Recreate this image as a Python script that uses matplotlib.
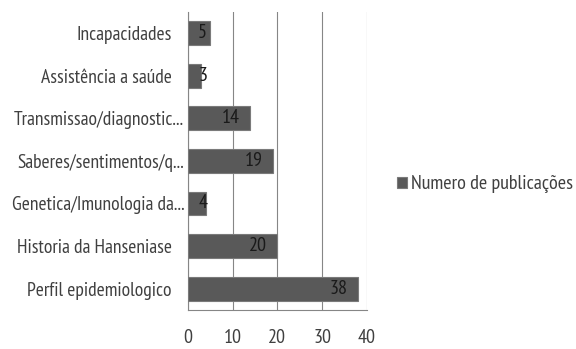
import matplotlib
matplotlib.use("Agg")
import matplotlib.pyplot as plt
from matplotlib.transforms import ScaledTranslation

categories = [
    "Perfil epidemiologico",
    "Historia da Hanseniase",
    "Genetica/Imunologia da...",
    "Saberes/sentimentos/q...",
    "Transmissao/diagnostic...",
    "Assistência a saúde",
    "Incapacidades",
]
values = [38, 20, 4, 19, 14, 3, 5]
series_name = "Numero de publicações"
xticks = [0, 10, 20, 30, 40]

plt.rcParams["font.family"] = ["PT Sans Narrow", "DejaVu Sans"]

text_color = "#404040"
bar_color = "#595959"
grid_color = "#868686"
fs = 14.5

fig = plt.figure(figsize=(5.76, 3.49), dpi=100)
ax = fig.add_axes([0.326, 0.112, 0.311, 0.854])

y = range(len(categories))
bars = ax.barh(y, values, height=0.56, color=bar_color, edgecolor="#7a7a7a",
               linewidth=0.8, label=series_name, zorder=3)

# Value labels sit inside the bar end; short bars get them from the bar start.
for yi, v in zip(y, values):
    if v <= 5:
        ax.annotate(str(v), (0, yi), xytext=(7.5, 0), textcoords="offset points",
                    ha="left", va="center", fontsize=fs, color="#1a1a1a", zorder=4)
    else:
        ax.annotate(str(v), (v, yi), xytext=(-7.5, 0), textcoords="offset points",
                    ha="right", va="center", fontsize=fs, color="#1a1a1a", zorder=4)

ax.set_xlim(0, 40)
ax.set_ylim(-0.5, len(categories) - 0.5)
ax.set_xticks(xticks)
ax.set_xticklabels([str(t) for t in xticks], fontsize=fs)
ax.set_yticks(list(y))
ax.set_yticklabels(categories, fontsize=14)
ax.grid(axis="x", color=grid_color, linewidth=0.8, zorder=0)
ax.tick_params(axis="both", length=0, labelcolor=text_color)
ax.tick_params(axis="x", pad=14)
ax.tick_params(axis="y", pad=2.5)

# Full-length category names keep a wider gap from the axis than truncated ones.
for lab in ax.get_yticklabels():
    if not lab.get_text().endswith("..."):
        lab.set_transform(lab.get_transform()
                          + ScaledTranslation(-9 / 72, 0, fig.dpi_scale_trans))

for side in ["top", "right"]:
    ax.spines[side].set_visible(False)
for side in ["left", "bottom"]:
    ax.spines[side].set_color(grid_color)
    ax.spines[side].set_linewidth(0.8)

leg = fig.legend(handles=[bars], labels=[series_name], loc="center left",
                 bbox_to_anchor=(0.69, 0.472), frameon=False, fontsize=fs,
                 handlelength=0.45, handleheight=0.45, handletextpad=0.2,
                 borderaxespad=0, borderpad=0, labelcolor=text_color)

fig.savefig("out.png", dpi=100)
